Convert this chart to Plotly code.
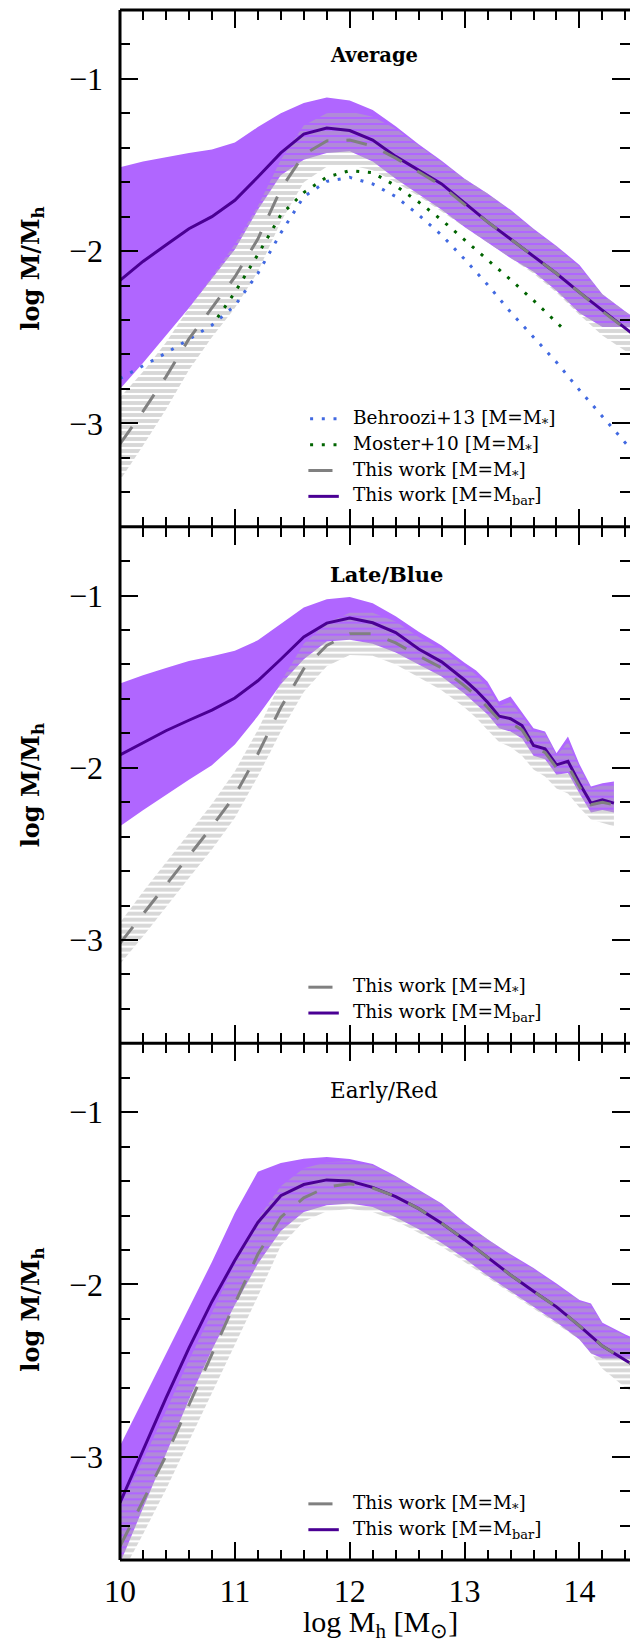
import plotly.graph_objects as go
from plotly.subplots import make_subplots

# ---------------- Average ----------------
mh_avg = [10.0, 10.2, 10.4, 10.6, 10.8, 11.0, 11.2, 11.4, 11.6, 11.8, 12.0, 12.2,
          12.4, 12.6, 12.8, 13.0, 13.2, 13.4, 13.6, 13.8, 14.0, 14.2, 14.4, 14.5]
bar_mid_avg = [-2.17, -2.06, -1.965, -1.87, -1.80, -1.705, -1.57, -1.43, -1.32, -1.285, -1.30, -1.355,
               -1.45, -1.53, -1.61, -1.72, -1.83, -1.93, -2.03, -2.13, -2.24, -2.345, -2.45, -2.50]
bar_hi_avg = [-1.513, -1.48, -1.455, -1.43, -1.41, -1.37, -1.28, -1.20, -1.14, -1.108, -1.125, -1.18,
              -1.275, -1.38, -1.475, -1.58, -1.665, -1.76, -1.87, -1.97, -2.08, -2.25, -2.35, -2.40]
bar_lo_avg = [-2.80, -2.65, -2.49, -2.33, -2.16, -1.99, -1.76, -1.56, -1.47, -1.43, -1.42, -1.48,
              -1.58, -1.67, -1.76, -1.86, -1.95, -2.04, -2.12, -2.23, -2.36, -2.44, -2.44, -2.45]
star_mid_avg = [-3.12, -2.93, -2.73, -2.51, -2.33, -2.15, -1.93, -1.64, -1.44, -1.36, -1.355, -1.39,
                -1.46, -1.54, -1.62, -1.73, -1.83, -1.93, -2.03, -2.13, -2.24, -2.35, -2.45, -2.50]
star_hi_avg = [-2.85, -2.70, -2.53, -2.33, -2.15, -1.96, -1.74, -1.47, -1.27, -1.20, -1.19, -1.22,
               -1.29, -1.385, -1.48, -1.58, -1.665, -1.765, -1.875, -1.975, -2.09, -2.25, -2.35, -2.40]
star_lo_avg = [-3.33, -3.13, -2.92, -2.69, -2.50, -2.33, -2.12, -1.83, -1.60, -1.51, -1.50, -1.53,
               -1.60, -1.68, -1.77, -1.86, -1.95, -2.04, -2.13, -2.24, -2.37, -2.49, -2.58, -2.63]
behroozi13 = [-2.74, -2.668, -2.592, -2.512, -2.43, -2.317, -2.13, -1.895, -1.684, -1.595, -1.572, -1.61,
              -1.683, -1.79, -1.907, -2.047, -2.195, -2.354, -2.50, -2.645, -2.807, -2.96, -3.115, -3.19]
mh_moster = [10.85, 11.0, 11.2, 11.4, 11.6, 11.8, 12.0, 12.2, 12.4, 12.6, 12.8,
             13.0, 13.2, 13.4, 13.6, 13.8, 13.88]
moster10 = [-2.385, -2.24, -2.02, -1.79, -1.66, -1.57, -1.533, -1.545, -1.62, -1.715, -1.819,
            -1.934, -2.05, -2.166, -2.286, -2.413, -2.465]

# ---------------- Late/Blue ----------------
mh_late = [10.0, 10.2, 10.4, 10.6, 10.8, 11.0, 11.2, 11.4, 11.6, 11.8, 12.0, 12.2, 12.4, 12.6,
           12.8, 13.0, 13.1, 13.2, 13.3, 13.4, 13.5, 13.6, 13.7, 13.8, 13.9, 14.0, 14.1, 14.2, 14.3]
bar_mid_late = [-1.925, -1.853, -1.785, -1.724, -1.665, -1.595, -1.495, -1.37, -1.24, -1.16, -1.131, -1.158,
                -1.215, -1.31, -1.385, -1.49, -1.55, -1.62, -1.70, -1.715, -1.755, -1.87, -1.89, -1.983,
                -1.963, -2.09, -2.205, -2.186, -2.205]
bar_hi_late = [-1.51, -1.462, -1.42, -1.38, -1.353, -1.32, -1.26, -1.165, -1.07, -1.022, -1.009, -1.044,
               -1.12, -1.21, -1.29, -1.39, -1.435, -1.50, -1.615, -1.586, -1.675, -1.77, -1.79, -1.915,
               -1.818, -1.98, -2.109, -2.09, -2.08]
bar_lo_late = [-2.34, -2.247, -2.157, -2.07, -1.985, -1.865, -1.70, -1.515, -1.37, -1.267, -1.257, -1.28,
               -1.33, -1.40, -1.47, -1.57, -1.63, -1.69, -1.77, -1.79, -1.83, -1.93, -1.95, -2.04,
               -2.03, -2.15, -2.26, -2.245, -2.26]
star_mid_late = [-3.02, -2.852, -2.68, -2.51, -2.342, -2.16, -1.92, -1.65, -1.425, -1.29, -1.222, -1.222,
                 -1.275, -1.35, -1.42, -1.525, -1.58, -1.65, -1.72, -1.74, -1.78, -1.885, -1.91, -2.0,
                 -1.99, -2.11, -2.215, -2.20, -2.215]
star_hi_late = [-2.90, -2.72, -2.55, -2.38, -2.21, -2.02, -1.78, -1.50, -1.28, -1.16, -1.10, -1.10,
                -1.15, -1.24, -1.31, -1.41, -1.46, -1.53, -1.64, -1.62, -1.70, -1.79, -1.80, -1.93,
                -1.85, -2.00, -2.12, -2.10, -2.09]
star_lo_late = [-3.14, -2.98, -2.81, -2.64, -2.475, -2.29, -2.05, -1.79, -1.56, -1.41, -1.345, -1.35,
                -1.40, -1.475, -1.55, -1.65, -1.71, -1.78, -1.85, -1.88, -1.93, -2.01, -2.05, -2.12,
                -2.15, -2.23, -2.30, -2.32, -2.34]

# ---------------- Early/Red ----------------
mh_early = [10.0, 10.2, 10.4, 10.6, 10.8, 11.0, 11.2, 11.4, 11.6, 11.8, 12.0, 12.2,
            12.4, 12.6, 12.8, 13.0, 13.2, 13.4, 13.6, 13.8, 14.0, 14.1, 14.2, 14.4, 14.5]
bar_mid_early = [-3.267, -2.96, -2.66, -2.37, -2.10, -1.86, -1.64, -1.485, -1.42, -1.393, -1.40, -1.436,
                 -1.49, -1.56, -1.645, -1.74, -1.843, -1.945, -2.04, -2.13, -2.24, -2.30, -2.358, -2.44, -2.48]
bar_hi_early = [-2.938, -2.67, -2.405, -2.14, -1.87, -1.585, -1.345, -1.295, -1.27, -1.26, -1.272, -1.30,
                -1.37, -1.45, -1.53, -1.64, -1.737, -1.825, -1.905, -1.995, -2.09, -2.11, -2.222, -2.29, -2.32]
bar_lo_early = [-3.62, -3.30, -2.98, -2.67, -2.38, -2.12, -1.88, -1.69, -1.58, -1.54, -1.53, -1.55,
                -1.61, -1.68, -1.76, -1.85, -1.95, -2.04, -2.13, -2.22, -2.32, -2.40, -2.43, -2.43, -2.44]
star_mid_early = [-3.52, -3.26, -2.995, -2.70, -2.40, -2.11, -1.825, -1.61, -1.497, -1.435, -1.415, -1.44,
                  -1.49, -1.56, -1.645, -1.74, -1.843, -1.945, -2.04, -2.13, -2.24, -2.30, -2.358, -2.44, -2.48]
star_hi_early = [-3.29, -3.02, -2.735, -2.44, -2.165, -1.88, -1.62, -1.43, -1.325, -1.29, -1.285, -1.31,
                 -1.375, -1.455, -1.535, -1.645, -1.74, -1.83, -1.91, -2.0, -2.095, -2.12, -2.23, -2.30, -2.33]
star_lo_early = [-3.70, -3.45, -3.19, -2.91, -2.63, -2.35, -2.07, -1.775, -1.635, -1.575, -1.562, -1.58,
                 -1.63, -1.70, -1.78, -1.865, -1.96, -2.05, -2.14, -2.23, -2.32, -2.40, -2.49, -2.60, -2.64]

panel_titles = ["Average", "Late/Blue", "Early/Red"]
panel_title_sizes = [19.5, 21, 21.5]
panel_title_weights = ["bold", "bold", "normal"]
label_star = "This work [M=M<sub>*</sub>]"
label_bar = "This work [M=M<sub>bar</sub>]"
label_beh = "Behroozi+13 [M=M<sub>*</sub>]"
label_mos = "Moster+10 [M=M<sub>*</sub>]"

PURPLE_FILL = "#b066ff"
PURPLE_LINE = "#4a0094"
GRAY_LINE = "#808080"
HATCH_GRAY = "#b0b0b0"
BLUE = "#4169e1"
GREEN = "#006400"
DASH_STAR = "21px,18px"
DOTS = "3px,8.7px"

SERIF = "Liberation Serif"
SLAB = "DejaVu Serif"

fig = make_subplots(rows=3, cols=1, shared_xaxes=True, vertical_spacing=0)


def add_band(row, x, lo, hi, hatched):
    xs = list(x) + list(x)[::-1]
    ys = list(hi) + list(lo)[::-1]
    if hatched:
        tr = go.Scatter(x=xs, y=ys, mode="lines", fill="toself",
                        fillcolor="rgba(0,0,0,0)",
                        fillpattern=dict(shape="-", size=6, solidity=0.65,
                                         fgcolor=HATCH_GRAY, bgcolor="rgba(0,0,0,0)"),
                        line=dict(width=0, color="rgba(0,0,0,0)"),
                        hoverinfo="skip", showlegend=False)
    else:
        tr = go.Scatter(x=xs, y=ys, mode="lines", fill="toself", fillcolor=PURPLE_FILL,
                        line=dict(width=0, color="rgba(0,0,0,0)"),
                        hoverinfo="skip", showlegend=False)
    fig.add_trace(tr, row=row, col=1)


def add_line(row, x, y, color, dash, name):
    fig.add_trace(go.Scatter(x=x, y=y, mode="lines", name=name,
                             line=dict(color=color, width=3, dash=dash),
                             hoverinfo="skip", showlegend=False), row=row, col=1)


panels = [
    (mh_avg, bar_lo_avg, bar_mid_avg, bar_hi_avg, star_lo_avg, star_mid_avg, star_hi_avg),
    (mh_late, bar_lo_late, bar_mid_late, bar_hi_late, star_lo_late, star_mid_late, star_hi_late),
    (mh_early, bar_lo_early, bar_mid_early, bar_hi_early, star_lo_early, star_mid_early, star_hi_early),
]

for i, (mh, blo, bmid, bhi, slo, smid, shi) in enumerate(panels):
    row = i + 1
    add_band(row, mh, blo, bhi, hatched=False)
    add_band(row, mh, slo, shi, hatched=True)
    if row == 1:
        add_line(row, mh_avg, behroozi13, BLUE, DOTS, label_beh)
        add_line(row, mh_moster, moster10, GREEN, DOTS, label_mos)
    add_line(row, mh, bmid, PURPLE_LINE, "solid", label_bar)
    add_line(row, mh, smid, GRAY_LINE, DASH_STAR, label_star)

# ---------------- axes (frame lines drawn once as shapes) ----------------
XMAX = 14.44
TICKFONT = dict(family=SERIF, size=32, color="black")
for r in (1, 2, 3):
    fig.update_xaxes(range=[10, XMAX], showline=False, mirror="ticks",
                     ticks="inside", ticklen=18, tickwidth=2, tickcolor="black",
                     tick0=0, dtick=1,
                     minor=dict(dtick=0.2, ticks="inside", ticklen=10, tickwidth=2, tickcolor="black"),
                     showgrid=False, zeroline=False, tickfont=TICKFONT,
                     ticklabelstandoff=9, row=r, col=1)
    fig.update_yaxes(range=[-3.6, -0.6], showline=False, mirror="ticks",
                     ticks="inside", ticklen=18, tickwidth=2, tickcolor="black",
                     tick0=0, dtick=1,
                     minor=dict(dtick=0.2, ticks="inside", ticklen=10, tickwidth=2, tickcolor="black"),
                     showgrid=False, zeroline=False, tickfont=TICKFONT,
                     ticklabelstandoff=16, row=r, col=1)

frame = dict(color="black", width=3)
shapes = [dict(type="line", xref="paper", yref="paper", x0=0, x1=0, y0=0, y1=1, line=frame)]
for yb in (0, 1 / 3, 2 / 3, 1):
    shapes.append(dict(type="line", xref="paper", yref="paper", x0=0, x1=1, y0=yb, y1=yb, line=frame))

annotations = []

# panel names and y-axis titles
for i, title in enumerate(panel_titles):
    yref = "y" if i == 0 else f"y{i + 1}"
    xref = "x" if i == 0 else f"x{i + 1}"
    annotations.append(dict(x=11.81, y=-0.862 if i == 0 else -0.875, xref=xref, yref=yref, text=title,
                            showarrow=False, xanchor="left", yanchor="middle",
                            font=dict(family=SLAB, size=panel_title_sizes[i], color="black",
                                      weight=panel_title_weights[i])))
    annotations.append(dict(x=-0.172, y=0.5 if i < 2 else 0.485, xref="paper", yref=f"{yref} domain",
                            text="log M/M<sub>h</sub>", textangle=-90, showarrow=False,
                            xanchor="center", yanchor="middle",
                            font=dict(family=SLAB, size=24, color="black", weight="bold")))

# in-panel keys
key_rows = [-2.974, -3.124, -3.274, -3.424]
key_text_x = 12.01
keys_avg = [(label_beh, BLUE, DOTS, 11.655, 11.92),
            (label_mos, GREEN, DOTS, 11.655, 11.92),
            (label_star, GRAY_LINE, "solid", 11.64, 11.85),
            (label_bar, PURPLE_LINE, "solid", 11.64, 11.905)]
keys_other = keys_avg[2:]
for i in range(3):
    yref = "y" if i == 0 else f"y{i + 1}"
    xref = "x" if i == 0 else f"x{i + 1}"
    keys = keys_avg if i == 0 else keys_other
    rows = key_rows if i == 0 else key_rows[2:]
    for (txt, col, dash, x0, x1), yk in zip(keys, rows):
        shapes.append(dict(type="line", xref=xref, yref=yref, x0=x0, x1=x1, y0=yk, y1=yk,
                           line=dict(color=col, width=3, dash=dash)))
        annotations.append(dict(x=key_text_x, y=yk, xref=xref, yref=yref, text=txt,
                                showarrow=False, xanchor="left", yanchor="middle",
                                font=dict(family=SLAB, size=18.5, color="black")))

# x-axis title
annotations.append(dict(x=0.51, y=-0.0416, xref="paper", yref="paper",
                        text="log M<sub>h</sub> [M<sub>⊙</sub>]", showarrow=False,
                        xanchor="center", yanchor="middle",
                        font=dict(family=SERIF, size=30, color="black")))

fig.update_layout(width=630, height=1649,
                  margin=dict(l=120, r=0, t=10, b=89),
                  paper_bgcolor="white", plot_bgcolor="white",
                  showlegend=False, hovermode=False,
                  shapes=shapes, annotations=annotations)

fig.write_html("out.html")
